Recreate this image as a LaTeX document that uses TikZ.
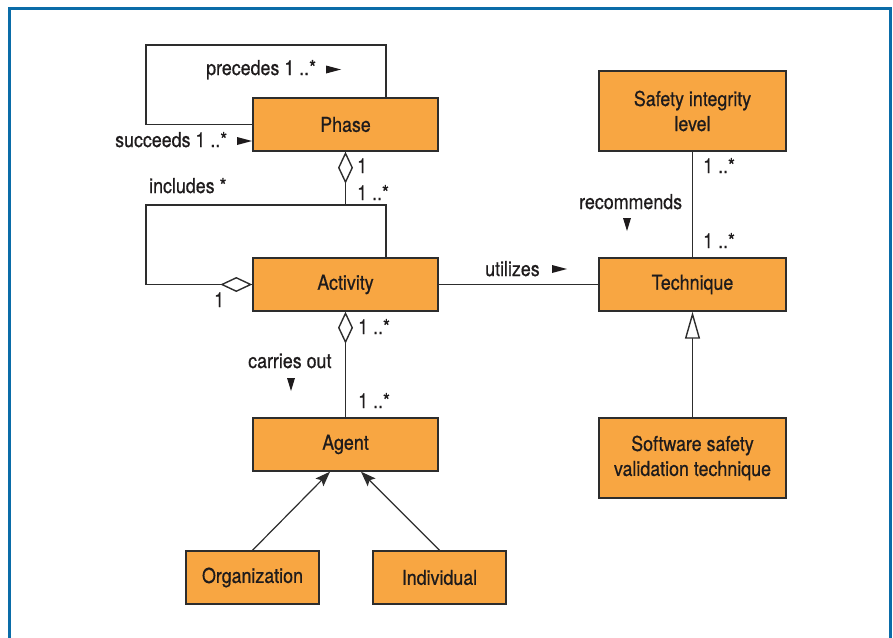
\documentclass[tikz,border=0pt]{standalone}
\usepackage{fontspec}
\setmainfont{TeX Gyre Heros}[FakeStretch=0.87, FakeBold=0.6]
\usetikzlibrary{arrows.meta}
\definecolor{boxfill}{RGB}{248,166,66}
\definecolor{linec}{RGB}{45,45,45}
\definecolor{textc}{RGB}{30,27,28}
\definecolor{framec}{RGB}{10,108,168}
\newcommand\rtri[2]{\fill[textc] (#1,#2) ++(-7.5,-4) -- ++(15,4) -- ++(-15,4) -- cycle;}
\newcommand\dtri[2]{\fill[textc] (#1,#2) ++(-4,-6.5) -- ++(8,0) -- ++(-4,13) -- cycle;}
\begin{document}
\begin{tikzpicture}[x=1pt,y=-1pt,
  cls/.style={draw=linec, fill=boxfill, line width=1.4pt, inner sep=0pt,
    font=\fontsize{20.5}{25}\selectfont, text=textc, align=center, minimum height=53pt},
  lbl/.style={font=\fontsize{20.5}{25}\selectfont, text=textc, inner sep=0pt, anchor=base west},
  conn/.style={draw=linec, line width=1.4pt},
  aggstart/.style={conn, arrows={Diamond[fill=white, length=32pt, width=15pt]-}},
  aggend/.style={conn, arrows={-Diamond[fill=white, length=32pt, width=15pt]}},
  gen/.style={conn, arrows={-Triangle[fill=white, length=27pt, width=15pt]}},
  navarrow/.style={conn, line width=1.2pt, arrows={-Stealth[length=15pt, width=11pt, inset=3pt]}},
  framestyle/.style={draw=framec, line width=3pt}]
\useasboundingbox (0,0) rectangle (893,637);
\draw[framestyle] (9.5,650) -- (9.5,8.5) -- (890.5,8.5) -- (890.5,650);

% classes
\node[cls, minimum width=185pt] (phase) at (345.5,124.5) {Phase};
\node[cls, minimum width=185pt] (activity) at (345.5,284.5) {Activity};
\node[cls, minimum width=185pt] (agent) at (345.5,444.5) {Agent};
\node[cls, minimum width=133pt] (org) at (252.5,577.5) {Organization};
\node[cls, minimum width=133pt] (indiv) at (439.5,577.5) {Individual};
\node[cls, minimum width=187pt, minimum height=80pt] (sil) at (692.5,111) {Safety integrity\\level};
\node[cls, minimum width=187pt] (tech) at (692.5,284.5) {Technique};
\node[cls, minimum width=187pt, minimum height=80pt] (ssvt) at (692.5,458) {Software safety\\validation technique};

% corner coordinates
\coordinate (ptop) at (146,45);
\coordinate (ileft) at (146,205);
\coordinate (ijoin) at (345.5,205);

% connectors
\draw[conn] ([xshift=40.5pt]phase.north) |- (ptop) |- (phase.west);
\draw[aggstart] (phase.south) -- (ijoin);
\draw[aggend] ([xshift=40.5pt]activity.north) |- (ileft) |- (activity.west);
\draw[aggstart] (activity.south) -- (agent.north);
\draw[conn] (activity.east) -- (tech.west);
\draw[conn] (sil.south) -- (tech.north);
\draw[gen] (ssvt.north) -- (tech.south);
\draw[navarrow] (org.north) -- ([xshift=-15.5pt]agent.south);
\draw[navarrow] (indiv.north) -- ([xshift=15.5pt]agent.south);

% labels
\node[lbl] (lprec) at (206,75) {precedes 1 ..*};
\rtri{333.5}{69.5}
\node[lbl] (lsucc) at (115,147) {succeeds 1 ..*};
\rtri{244.5}{141}
\node[lbl] (lincl) at (149,193) {includes *};
\node[lbl] (lp1) at (357,173) {1};
\node[lbl] (la1) at (357,200) {1 ..*};
\node[lbl] (lone) at (214,307) {1};
\node[lbl] (lact2) at (358,334) {1 ..*};
\node[lbl] (lcarry) at (248,368) {carries out};
\dtri{291}{384.5}
\node[lbl] (lag) at (358,408) {1 ..*};
\node[lbl] (lutil) at (485,276) {utilizes};
\rtri{559.5}{269}
\node[lbl] (lrec) at (579,209) {recommends};
\dtri{627}{224.5}
\node[lbl] (ls1) at (703,173) {1 ..*};
\node[lbl] (lt1) at (703,248) {1 ..*};
\end{tikzpicture}
\end{document}
